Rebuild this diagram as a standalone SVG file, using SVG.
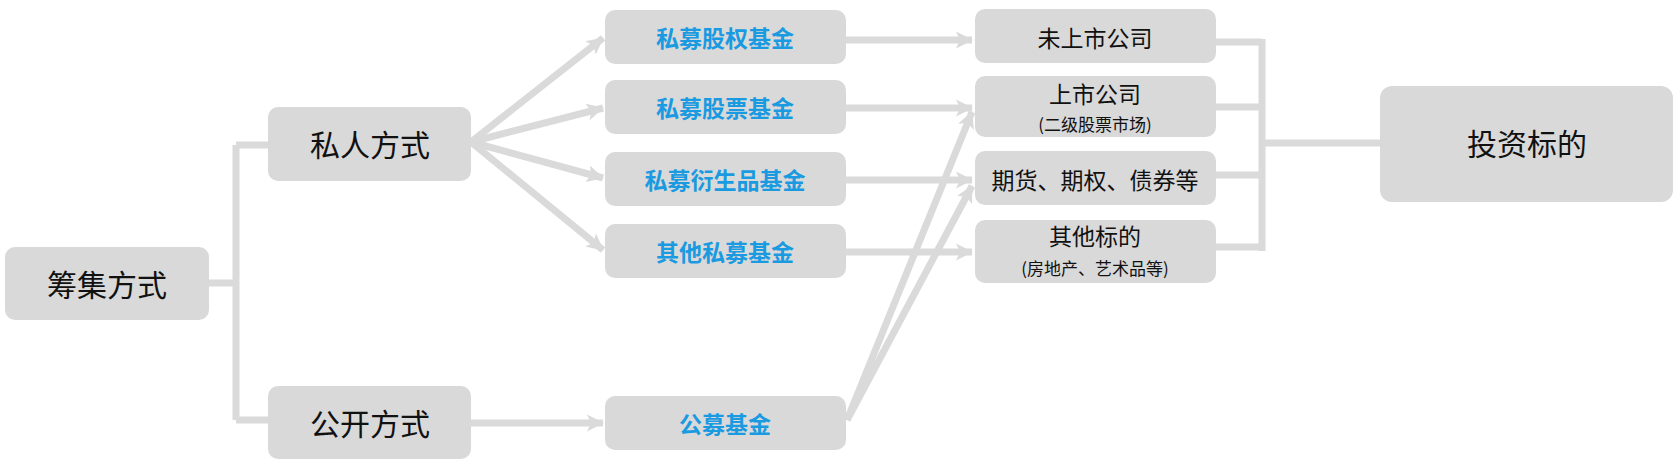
<svg xmlns="http://www.w3.org/2000/svg" width="1678" height="471" viewBox="0 0 1678 471">
<style>
.box{fill:#d9d9d9}
.t{font-family:"Noto Sans CJK SC","Liberation Sans",sans-serif;text-anchor:middle;dominant-baseline:central;fill:#111}
.big{font-size:30px}
.mid{font-size:23px}
.sub{font-size:17px}
.blue{fill:#1a9ae0;font-size:23px;font-weight:bold}
.c{fill:none;stroke:#dadada;stroke-width:7}
.a{fill:none;stroke:#dadada;stroke-width:7;marker-end:url(#ah)}
</style>
<defs>
<marker id="ah" markerUnits="userSpaceOnUse" markerWidth="18" markerHeight="18" viewBox="0 0 18 18" refX="16" refY="9" orient="auto">
<path d="M0,0.5 L17,9 L0,17.5 L4,9 z" fill="#dadada"/>
</marker>
</defs>
<g id="connectors">
<path class="c" d="M209,283 H236 M236,145 V420 M236,145 H268 M236,420 H268"/>
<line class="a" x1="471" y1="142" x2="603" y2="38"/>
<line class="a" x1="471" y1="142" x2="603" y2="108"/>
<line class="a" x1="471" y1="142" x2="603" y2="178"/>
<line class="a" x1="471" y1="142" x2="603" y2="250"/>
<line class="a" x1="471" y1="423" x2="603" y2="423"/>
<line class="a" x1="846" y1="40" x2="972" y2="40"/>
<line class="a" x1="846" y1="108" x2="972" y2="108"/>
<line class="a" x1="846" y1="180" x2="972" y2="180"/>
<line class="a" x1="846" y1="252" x2="972" y2="252"/>
<line class="a" x1="847" y1="420" x2="972" y2="112"/>
<line class="a" x1="847" y1="420" x2="972" y2="186"/>
<path class="c" d="M1216,42 H1262 M1216,107 H1262 M1216,175 H1262 M1216,247 H1262 M1262,39 V251 M1262,143 H1380"/>
</g>
<g id="n-chouji"><rect class="box" x="5" y="247" width="204" height="73" rx="10"/><text class="t big" x="107" y="283">筹集方式</text></g>
<g id="n-siren"><rect class="box" x="268" y="107" width="203" height="74" rx="10"/><text class="t big" x="370" y="143">私人方式</text></g>
<g id="n-gongkai"><rect class="box" x="268" y="386" width="203" height="73" rx="10"/><text class="t big" x="370" y="422">公开方式</text></g>
<g id="n-smgq"><rect class="box" x="605" y="10" width="241" height="54" rx="10"/><text class="t blue" x="725" y="37">私募股权基金</text></g>
<g id="n-smgp"><rect class="box" x="605" y="80" width="241" height="54" rx="10"/><text class="t blue" x="725" y="107">私募股票基金</text></g>
<g id="n-smys"><rect class="box" x="605" y="152" width="241" height="54" rx="10"/><text class="t blue" x="725" y="179">私募衍生品基金</text></g>
<g id="n-qtsm"><rect class="box" x="605" y="224" width="241" height="54" rx="10"/><text class="t blue" x="725" y="251">其他私募基金</text></g>
<g id="n-gmjj"><rect class="box" x="605" y="396" width="241" height="54" rx="10"/><text class="t blue" x="725" y="423">公募基金</text></g>
<g id="n-wss"><rect class="box" x="975" y="9" width="241" height="54" rx="10"/><text class="t mid" x="1095" y="37">未上市公司</text></g>
<g id="n-ss"><rect class="box" x="975" y="76" width="241" height="61" rx="10"/><text class="t mid" x="1095" y="93">上市公司</text><text class="t sub" x="1095" y="123">(二级股票市场)</text></g>
<g id="n-qh"><rect class="box" x="975" y="151" width="241" height="54" rx="10"/><text class="t mid" x="1095" y="179">期货、期权、债券等</text></g>
<g id="n-qtbd"><rect class="box" x="975" y="220" width="241" height="63" rx="10"/><text class="t mid" x="1095" y="235">其他标的</text><text class="t sub" x="1095" y="267">(房地产、艺术品等)</text></g>
<g id="n-tzbd"><rect class="box" x="1380" y="86" width="293" height="116" rx="12"/><text class="t big" x="1527" y="142">投资标的</text></g>
</svg>
